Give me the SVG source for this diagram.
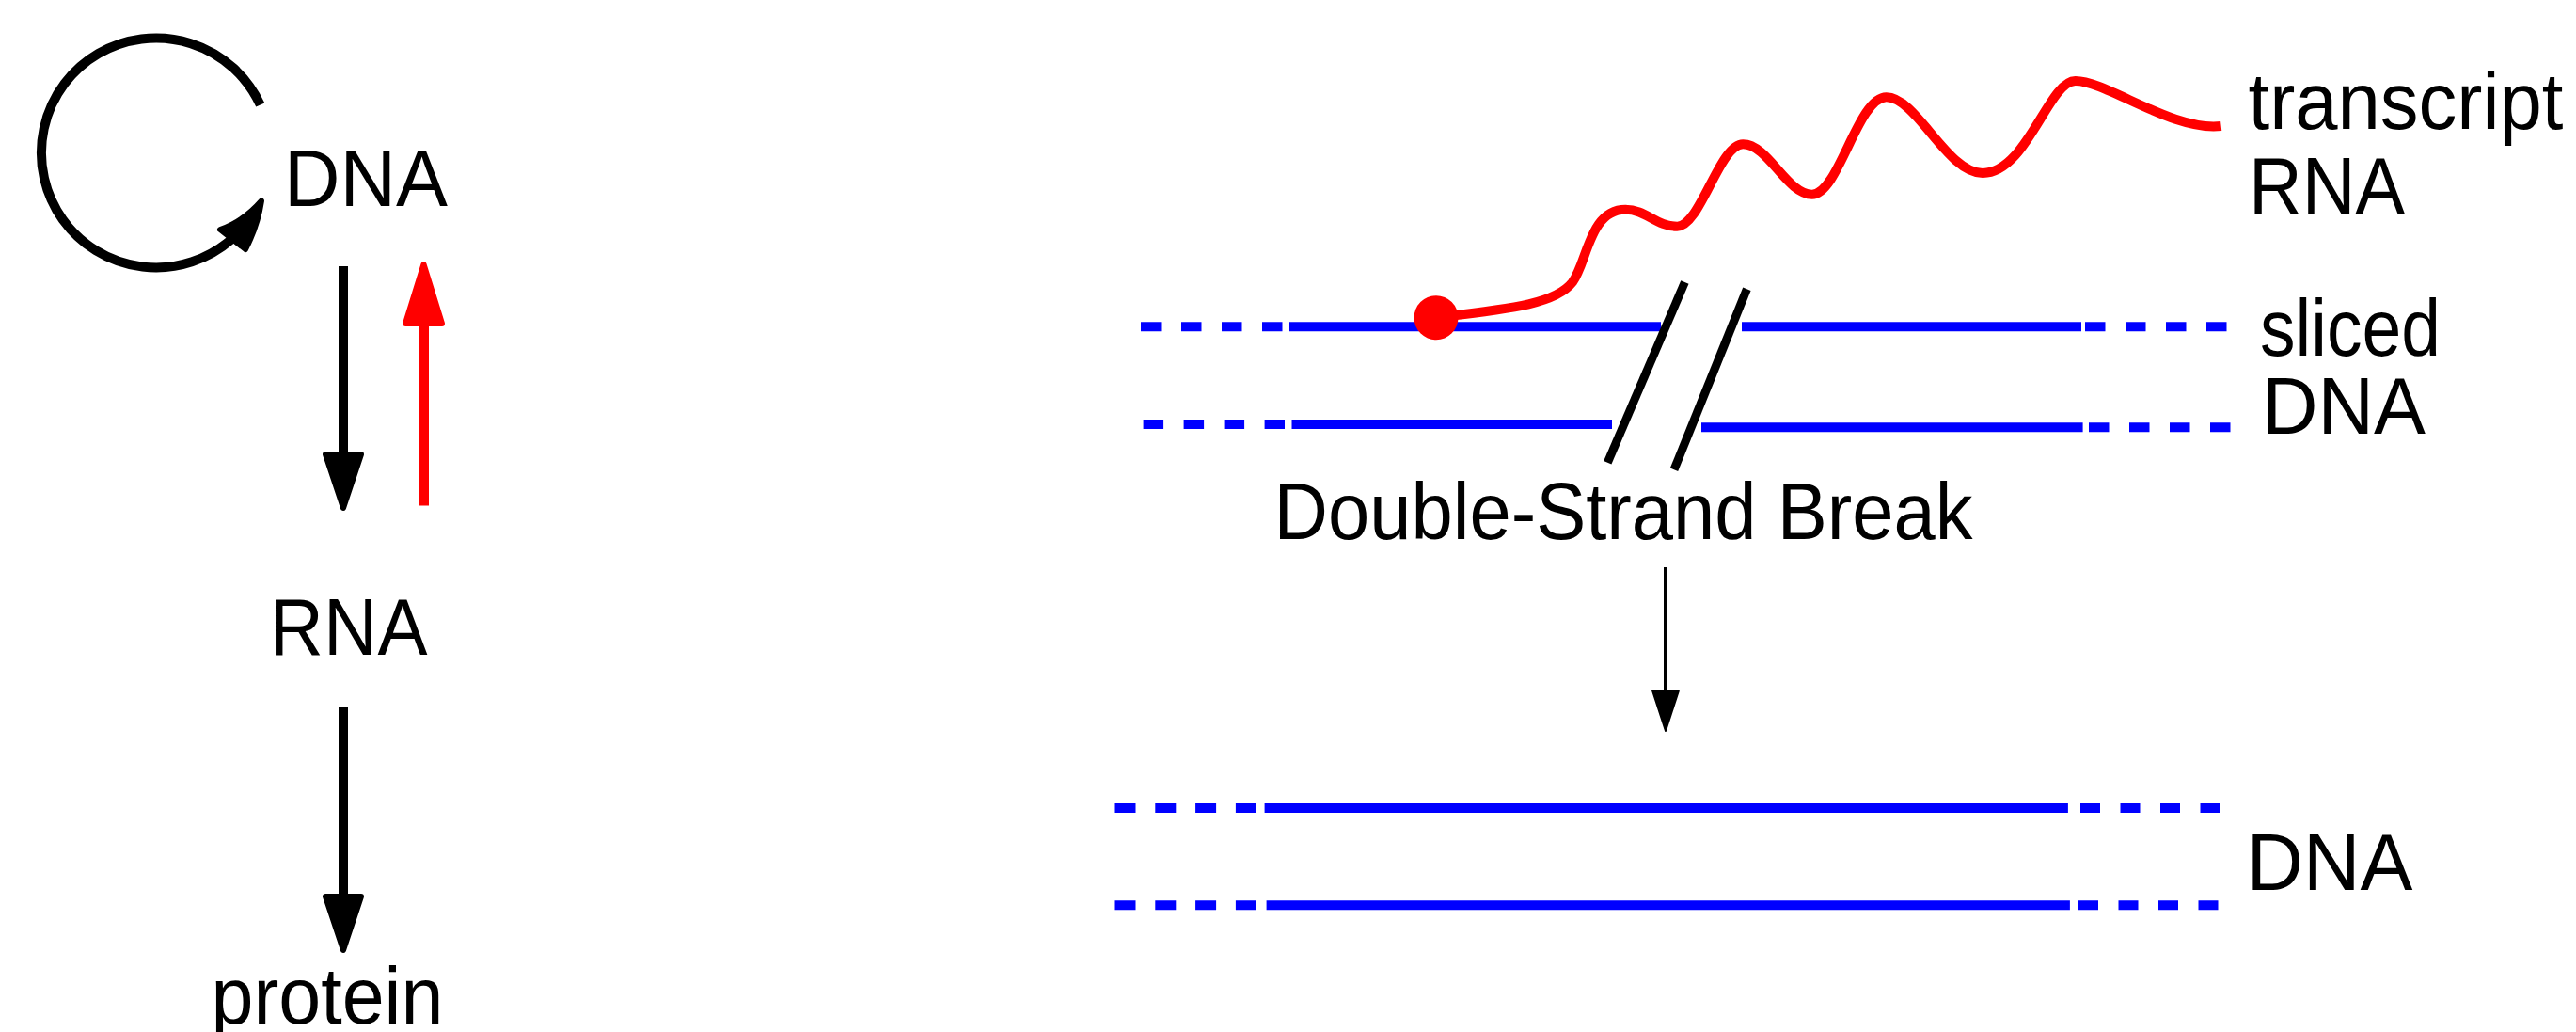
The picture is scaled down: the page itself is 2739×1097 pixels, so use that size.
<svg xmlns="http://www.w3.org/2000/svg" width="2739" height="1097" viewBox="0 0 2739 1097">
<style>
text{font-family:"Liberation Sans",Arial,sans-serif;font-size:86px;fill:#000;text-anchor:middle}
.blk{stroke:#000;fill:none;stroke-width:10}
.red{stroke:#f00;fill:none;stroke-width:10}
.hb{fill:#000;stroke:#000;stroke-width:6;stroke-linejoin:round}
.hr{fill:#f00;stroke:#f00;stroke-width:6;stroke-linejoin:round}
.dna{stroke:#00f;stroke-width:10;fill:none}
.dash{stroke:#00f;stroke-width:10;fill:none;stroke-dasharray:21.5 21.5}
.brk{stroke:#000;stroke-width:9;fill:none}
</style>
<rect width="2739" height="1097" fill="#fff"/>
<g id="connectors">
  <g id="self-loop">
    <path class="blk" d="M276.8 111.5 A122 122 0 1 0 246 254.5"/>
    <path class="hb" d="M234 244 Q258 236 278 213.5 Q274 240 261 265 Z"/>
  </g>
  <g id="dna-to-rna">
    <line class="blk" x1="365" y1="283" x2="365" y2="490"/>
    <polygon class="hb" points="346,483 384,483 365,540"/>
  </g>
  <g id="rna-to-dna">
    <line class="red" x1="451" y1="537.5" x2="451" y2="335"/>
    <polygon class="hr" points="431,344 470,344 450.5,281"/>
  </g>
  <g id="rna-to-protein">
    <line class="blk" x1="365" y1="752" x2="365" y2="958"/>
    <polygon class="hb" points="346,953 384,953 365,1010"/>
  </g>
  <g id="dsb-arrow">
    <line x1="1771" y1="603" x2="1771" y2="740" stroke="#000" stroke-width="4"/>
    <polygon points="1757,734 1785,734 1771,777" fill="#000" stroke="#000" stroke-width="2" stroke-linejoin="round"/>
  </g>
</g>
<g id="sliced-dna">
  <line class="dash" x1="1213" y1="347.3" x2="1364" y2="347.3"/>
  <line class="dna" x1="1371" y1="347.3" x2="1766" y2="347.3"/>
  <line class="dna" x1="1852" y1="347.3" x2="2213" y2="347.3"/>
  <line class="dash" x1="2217" y1="347.3" x2="2368" y2="347.3"/>
  <line class="dash" x1="1215.6" y1="451" x2="1366" y2="451"/>
  <line class="dna" x1="1373.5" y1="451" x2="1714" y2="451"/>
  <line class="dna" x1="1809" y1="454.3" x2="2214.6" y2="454.3"/>
  <line class="dash" x1="2221" y1="454.3" x2="2372" y2="454.3"/>
</g>
<g id="break">
  <line class="brk" x1="1791.4" y1="300" x2="1709.3" y2="491.7"/>
  <line class="brk" x1="1857.4" y1="307.3" x2="1780" y2="499.3"/>
</g>
<g id="transcript">
  <path class="red" d="M1535 336.5 C1610 328 1655 322 1672 300 C1688 278 1690 222.7 1728.3 222.7 C1750 222.7 1761 240.7 1783.3 240.7 C1808 240.7 1828 153.3 1853.3 153.3 C1880 153.3 1900 206.7 1926.7 206.7 C1955 206.7 1975 103.3 2005.7 103.3 C2038 103.3 2070 184 2108.3 184 C2155 184 2178 86 2206.7 86 C2240 86 2310 140 2361.7 134"/>
  <circle cx="1527" cy="337.7" r="23.5" fill="#f00"/>
</g>
<g id="repaired-dna">
  <line class="dash" x1="1185.5" y1="859" x2="1337" y2="859" style="stroke-dasharray:22 20.8"/>
  <line class="dna" x1="1344.6" y1="859" x2="2198.9" y2="859"/>
  <line class="dash" x1="2212" y1="859" x2="2362" y2="859" style="stroke-dasharray:21 21.5"/>
  <line class="dash" x1="1185.5" y1="962.3" x2="1337" y2="962.3" style="stroke-dasharray:22 20.8"/>
  <line class="dna" x1="1346.6" y1="962.3" x2="2200.9" y2="962.3"/>
  <line class="dash" x1="2210" y1="962.3" x2="2362" y2="962.3" style="stroke-dasharray:21 21.5"/>
</g>
<g id="node-dna"><text x="389" y="219" textLength="174" lengthAdjust="spacingAndGlyphs">DNA</text></g>
<g id="node-rna"><text x="370.5" y="696" textLength="168" lengthAdjust="spacingAndGlyphs">RNA</text></g>
<g id="node-protein"><text x="348" y="1088" textLength="247" lengthAdjust="spacingAndGlyphs">protein</text></g>
<g id="label-transcript"><text x="2558" y="136.7" textLength="335" lengthAdjust="spacingAndGlyphs">transcript</text></g>
<g id="label-rna"><text x="2474" y="226.7" textLength="166" lengthAdjust="spacingAndGlyphs">RNA</text></g>
<g id="label-sliced"><text x="2499" y="378.3" textLength="192" lengthAdjust="spacingAndGlyphs">sliced</text></g>
<g id="label-dna1"><text x="2492" y="460.7" textLength="174" lengthAdjust="spacingAndGlyphs">DNA</text></g>
<g id="label-dsb"><text x="1726" y="573" textLength="743" lengthAdjust="spacingAndGlyphs">Double-Strand Break</text></g>
<g id="label-dna2"><text x="2477" y="945.7" textLength="177" lengthAdjust="spacingAndGlyphs">DNA</text></g>
</svg>
